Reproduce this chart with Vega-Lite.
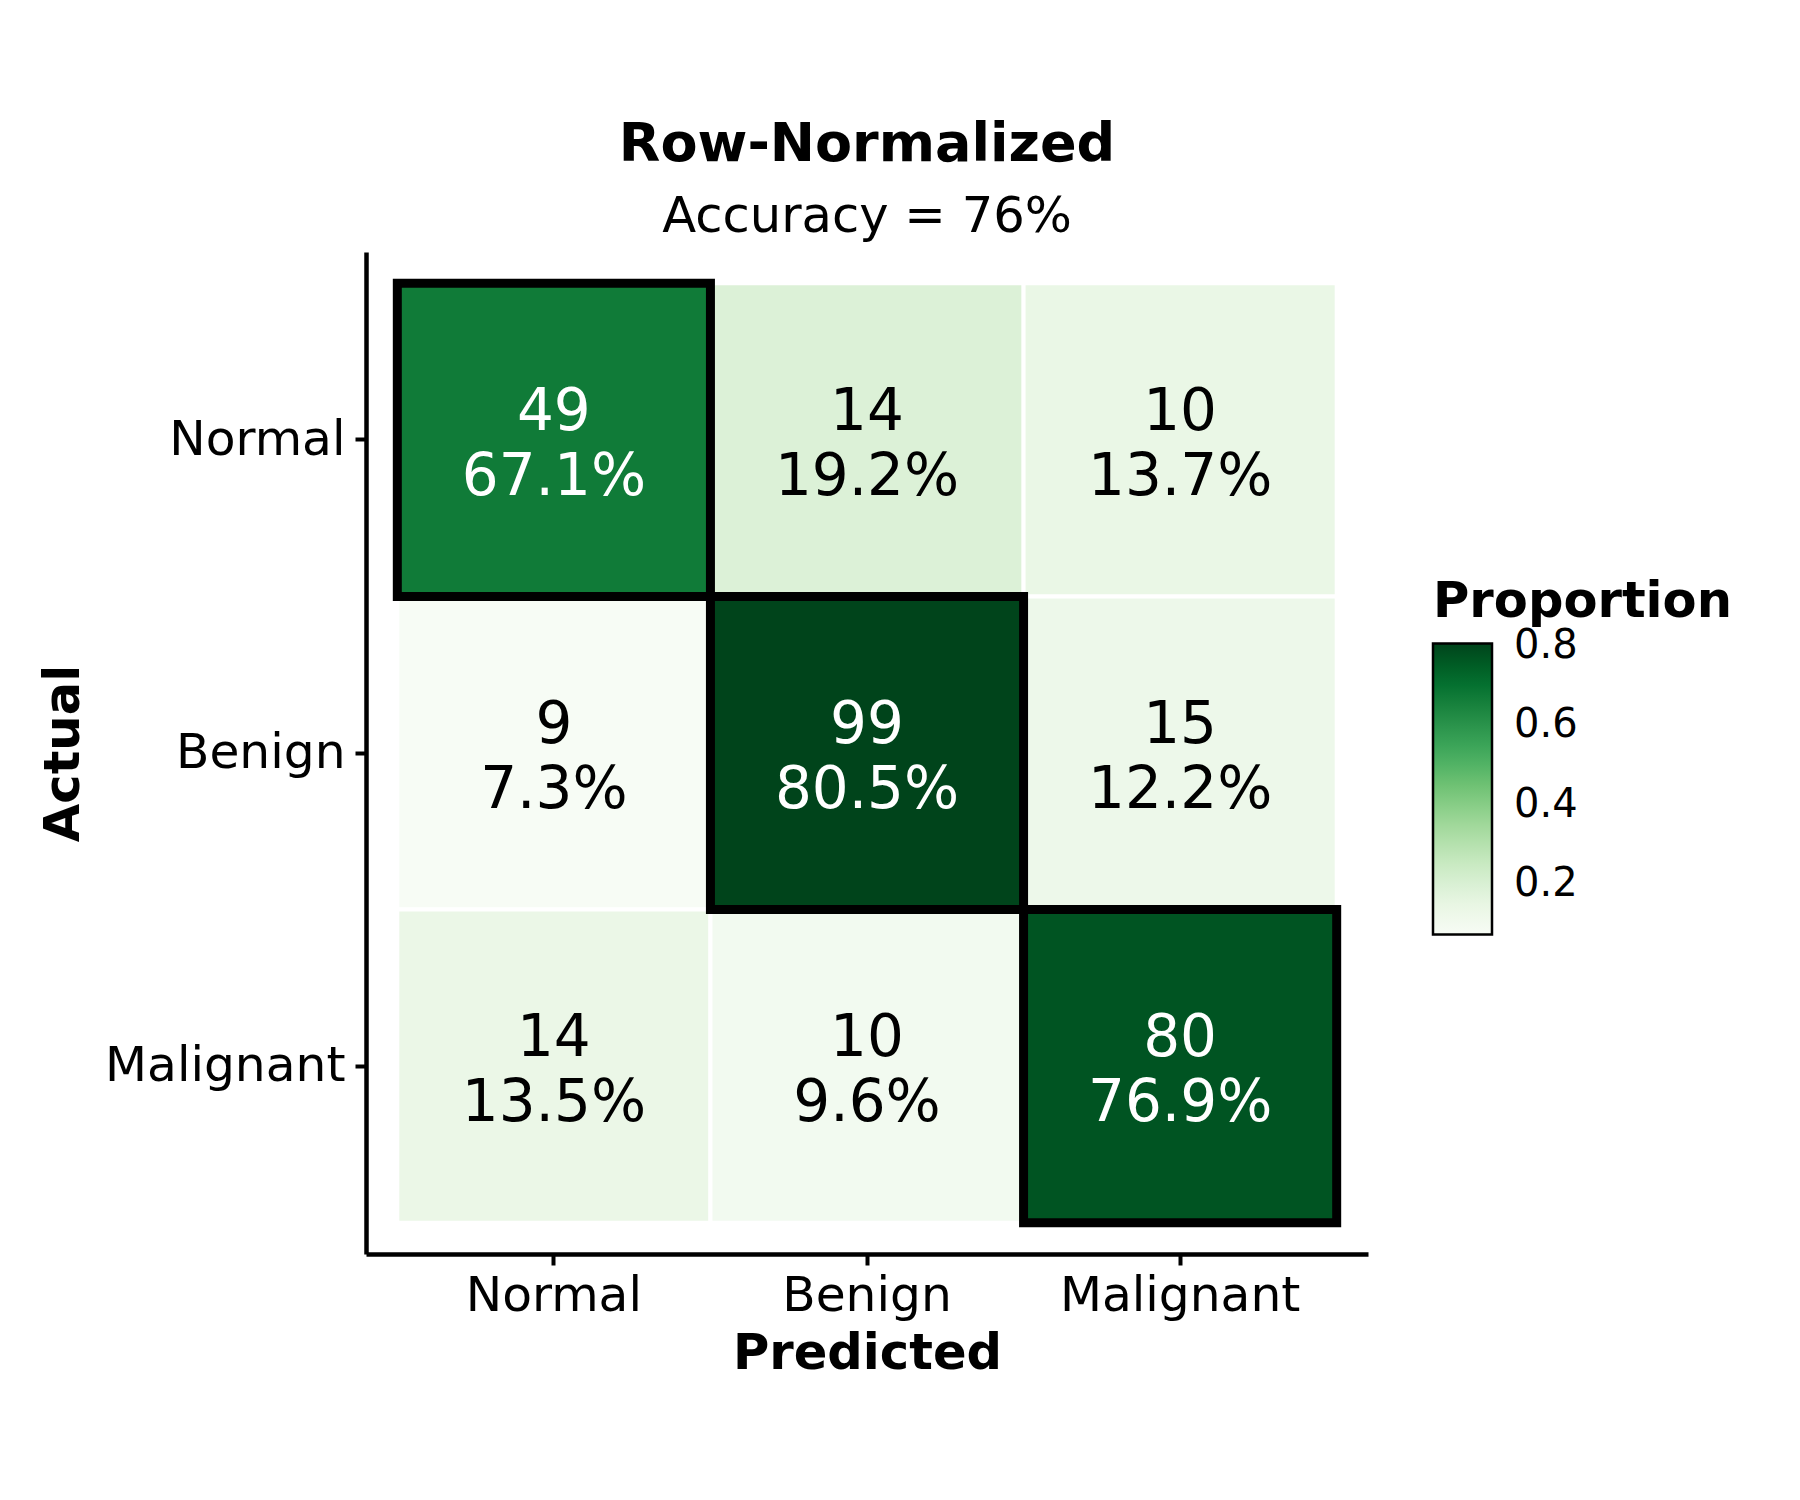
{
  "$schema": "https://vega.github.io/schema/vega-lite/v6.json",
  "width": 1002,
  "height": 1002,
  "autosize": {"type": "none"},
  "padding": {"left": 366, "top": 252, "right": 432, "bottom": 246},
  "background": "white",
  "title": {
    "text": "Row-Normalized",
    "subtitle": "Accuracy = 76%",
    "anchor": "middle",
    "frame": "group",
    "font": "DejaVu Sans",
    "fontSize": 54,
    "fontWeight": "bold",
    "color": "black",
    "subtitleFont": "DejaVu Sans",
    "subtitleFontSize": 49.6,
    "subtitleColor": "black",
    "offset": 10,
    "subtitlePadding": 21
  },
  "data": {
    "values": [
      {"actual": "Normal", "predicted": "Normal", "count": 49, "prop": 0.6712, "label": "49\n67.1%", "correct": true},
      {"actual": "Normal", "predicted": "Benign", "count": 14, "prop": 0.1918, "label": "14\n19.2%", "correct": false},
      {"actual": "Normal", "predicted": "Malignant", "count": 10, "prop": 0.1370, "label": "10\n13.7%", "correct": false},
      {"actual": "Benign", "predicted": "Normal", "count": 9, "prop": 0.0732, "label": "9\n7.3%", "correct": false},
      {"actual": "Benign", "predicted": "Benign", "count": 99, "prop": 0.8049, "label": "99\n80.5%", "correct": true},
      {"actual": "Benign", "predicted": "Malignant", "count": 15, "prop": 0.1220, "label": "15\n12.2%", "correct": false},
      {"actual": "Malignant", "predicted": "Normal", "count": 14, "prop": 0.1346, "label": "14\n13.5%", "correct": false},
      {"actual": "Malignant", "predicted": "Benign", "count": 10, "prop": 0.0962, "label": "10\n9.6%", "correct": false},
      {"actual": "Malignant", "predicted": "Malignant", "count": 80, "prop": 0.7692, "label": "80\n76.9%", "correct": true}
    ]
  },
  "encoding": {
    "x": {
      "field": "predicted",
      "type": "nominal",
      "sort": ["Normal", "Benign", "Malignant"],
      "scale": {"paddingInner": 0, "paddingOuter": 0.1},
      "title": "Predicted",
      "axis": {"labelAngle": 0, "labelPadding": 7, "titlePadding": 10, "bandPosition": 0.5}
    },
    "y": {
      "field": "actual",
      "type": "nominal",
      "sort": ["Normal", "Benign", "Malignant"],
      "scale": {"paddingInner": 0, "paddingOuter": 0.1},
      "title": "Actual",
      "axis": {"labelPadding": 10, "titleX": -303, "titleBaseline": "middle", "bandPosition": 0.5}
    }
  },
  "layer": [
    {
      "mark": {"type": "rect", "stroke": "white", "strokeWidth": 4},
      "encoding": {
        "color": {
          "field": "prop",
          "type": "quantitative",
          "scale": {
            "domain": [0.0732, 0.8049],
            "zero": false,
            "nice": false,
            "interpolate": "rgb",
            "range": ["#f7fcf5", "#e5f5e0", "#c7e9c0", "#a1d99b", "#74c476", "#41ab5d", "#238b45", "#006d2c", "#00441b"]
          },
          "legend": {
            "orient": "none",
            "legendX": 1067,
            "legendY": 326,
            "padding": 0,
            "title": "Proportion",
            "titleFont": "DejaVu Sans",
            "titleFontSize": 49.6,
            "titleFontWeight": "bold",
            "titleColor": "black",
            "titlePadding": 16,
            "titleLimit": 600,
            "labelFont": "DejaVu Sans",
            "labelFontSize": 40,
            "labelColor": "black",
            "labelOffset": 22,
            "gradientLength": 291,
            "gradientThickness": 59,
            "gradientStrokeColor": "black",
            "gradientStrokeWidth": 2.5,
            "values": [0.2, 0.4, 0.6, 0.8]
          }
        }
      }
    },
    {
      "transform": [{"filter": "datum.correct"}],
      "mark": {"type": "rect", "fill": "transparent", "stroke": "black", "strokeWidth": 9}
    },
    {
      "mark": {"type": "text", "font": "DejaVu Sans", "fontSize": 58, "lineBreak": "\n", "lineHeight": 65, "baseline": "middle", "dy": -27},
      "encoding": {
        "text": {"field": "label"},
        "color": {"condition": {"test": "datum.correct", "value": "white"}, "value": "black"}
      }
    }
  ],
  "config": {
    "font": "DejaVu Sans",
    "view": {"stroke": null},
    "axis": {
      "grid": false,
      "domainColor": "black",
      "domainWidth": 4.5,
      "tickColor": "black",
      "tickWidth": 4,
      "tickSize": 11,
      "labelFont": "DejaVu Sans",
      "labelFontSize": 48.7,
      "labelColor": "black",
      "labelLimit": 500,
      "titleFont": "DejaVu Sans",
      "titleFontSize": 49.6,
      "titleFontWeight": "bold",
      "titleColor": "black"
    }
  }
}
